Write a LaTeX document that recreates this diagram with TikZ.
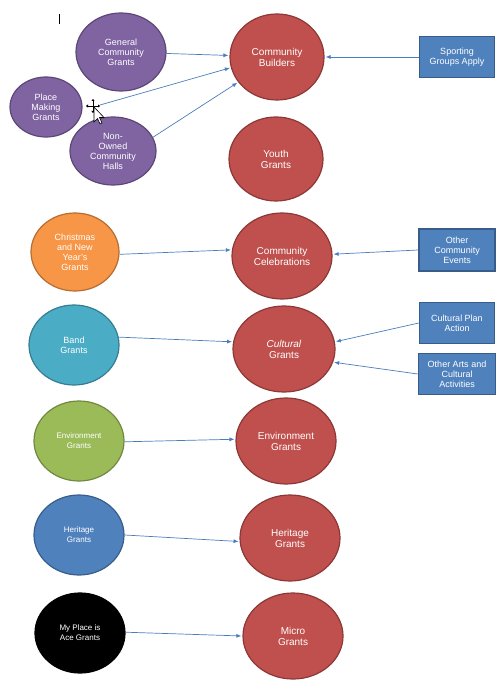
\documentclass[tikz,border=0pt]{standalone}
\usepackage{fontspec}
\setmainfont{Liberation Sans}
\usetikzlibrary{shapes.geometric,arrows.meta}
\definecolor{purpf}{HTML}{8064A2}\definecolor{purpd}{HTML}{5C4776}
\definecolor{redf}{HTML}{C0504D}\definecolor{redd}{HTML}{8C3836}
\definecolor{oranf}{HTML}{F79646}\definecolor{orand}{HTML}{B66D31}
\definecolor{tealf}{HTML}{4BACC6}\definecolor{teald}{HTML}{357D91}
\definecolor{grnf}{HTML}{9BBB59}\definecolor{grnd}{HTML}{71893F}
\definecolor{bluf}{HTML}{4F81BD}\definecolor{blud}{HTML}{385D8A}
\definecolor{arrc}{HTML}{4A7EBB}
\begin{document}
\begin{tikzpicture}[x=1pt,y=-1pt,
  ell/.style={ellipse,draw,line width=1.2pt,inner sep=0pt,text=white,align=center},
  big/.style={ell,fill=redf,draw=redd,minimum width=98pt,minimum height=86pt,font=\fontsize{10}{11}\selectfont},
  med/.style={font=\fontsize{9}{10}\selectfont},
  sml/.style={font=\fontsize{8}{10}\selectfont},
  purp/.style={ell,med,fill=purpf,draw=purpd},
  srcell/.style={ell,minimum width=90pt,minimum height=80pt},
  boxn/.style={rectangle,draw=blud,fill=bluf,line width=1.5pt,text=white,align=center,
    minimum width=75pt,minimum height=41pt,inner sep=1pt,font=\fontsize{9}{10}\selectfont},
  arr/.style={draw=arrc,line width=0.7pt,-{Latex[length=5pt,width=4pt]},shorten >=1pt}
]
\useasboundingbox (0,0) rectangle (501,684);

% top group
\node[purp,minimum width=90pt,minimum height=78pt] (gen) at (121,52) {General\\Community\\Grants};
\node[purp,minimum width=72pt,minimum height=60pt] (pm) at (46,107) {Place\\Making\\Grants};
\node[purp,minimum width=86pt,minimum height=68pt] (noh) at (113,151) {Non-\\Owned\\Community\\Halls};
\node[big,minimum width=94pt] (cb) at (277,57) {Community\\Builders};
\node[big,minimum width=94pt,minimum height=84pt] (yg) at (276,159) {Youth\\Grants};
\node[boxn] (sga) at (457,57) {Sporting\\Groups Apply};
\coordinate (pmstart) at (100,105);

\draw[arr] (gen) -- (cb);
\draw[arr] (pmstart) -- (cb.193);
\draw[arr] (noh.19) -- (cb.213);
\draw[arr] (sga.west) -- (cb.east);

% celebrations
\node[srcell,med,fill=oranf,draw=orand,minimum width=88pt,minimum height=78pt] (xmas) at (75,252) {Christmas\\and New\\Year's\\Grants};
\node[big,minimum width=100pt] (cc) at (282,256) {Community\\Celebrations};
\node[boxn,minimum width=76pt,minimum height=42pt] (oce) at (457,250) {Other\\Community\\Events};
\draw[arr] (xmas.-3) -- (cc.173);
\draw[arr] (oce.west) -- (cc.2);

% cultural
\node[srcell,med,fill=tealf,draw=teald] (band) at (74,345) {Band\\Grants};
\node[big,minimum width=102pt] (cg) at (284,349) {\textit{Cultural}\\Grants};
\node[boxn] (cpa) at (457,323) {Cultural Plan\\Action};
\node[boxn,minimum width=77pt] (oa) at (457,374) {Other Arts and\\Cultural\\Activities};
\draw[arr] (band.10) -- (cg.172);
\draw[arr] (cpa.west) -- (cg.8);
\draw[arr] (oa.west) -- (cg.-15);

% environment
\node[srcell,sml,fill=grnf,draw=grnd] (env) at (79,441) {Environment\\Grants};
\node[big,minimum width=100pt] (eg) at (286,441) {Environment\\Grants};
\draw[arr] (env.-1) -- (eg.178);

% heritage
\node[srcell,sml,fill=bluf,draw=blud] (her) at (79,535) {Heritage\\Grants};
\node[big,minimum width=100pt] (hg) at (290,538) {Heritage\\Grants};
\draw[arr] (her.0) -- (hg.184);

% micro
\node[srcell,sml,fill=black,draw=black] (mpa) at (80,633) {My Place is\\Ace Grants};
\node[big,minimum width=100pt] (mg) at (293,636) {Micro\\Grants};
\draw[arr] (mpa.1) -- (mg.180);

% screen cursors
\draw[line width=0.8pt] (59,14) -- (59,24);
\begin{scope}[line width=0.7pt,-{Triangle[length=2pt,width=3pt]}]
  \draw (93,106) -- (86,106);
  \draw (93,106) -- (100,106);
  \draw (93,106) -- (93,99);
  \draw (93,106) -- (93,113);
\end{scope}
\draw[fill=white,draw=black,line width=0.6pt] (94,107) -- (94,122) -- (97.5,118.5) -- (100,124) -- (102,123) -- (99.5,117.5) -- (104,117.5) -- cycle;
\end{tikzpicture}
\end{document}
